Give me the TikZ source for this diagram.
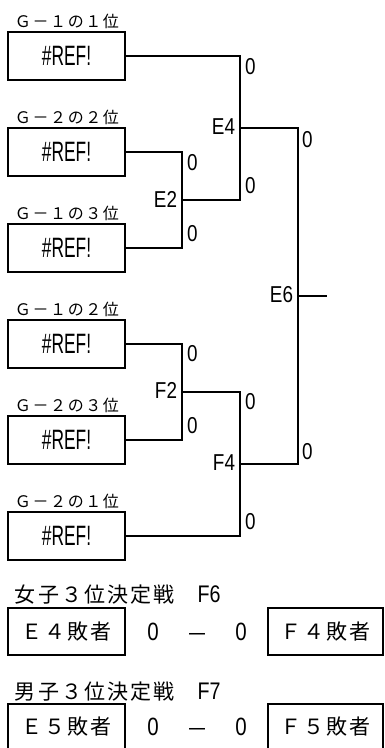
\documentclass[tikz,border=0pt]{standalone}
\usepackage{fontspec}
\setmainfont{Noto Sans CJK JP}
\newfontfamily\narrowfont[FakeStretch=0.62]{Liberation Sans}
\newfontfamily\digitfont[FakeStretch=0.82]{Liberation Sans}
\newfontfamily\widefont[LetterSpace=10]{Noto Sans CJK JP}
\usetikzlibrary{calc,positioning}

\begin{document}
\begin{tikzpicture}[x=1pt, y=-1pt, line width=2pt,
  team/.style={draw, minimum width=117pt, minimum height=48pt, inner sep=0pt, font=\narrowfont\fontsize{28}{28}\selectfont},
  loser/.style={draw, minimum width=117pt, minimum height=47pt, inner sep=0pt, font=\widefont\fontsize{21}{21}\selectfont},
  seed/.style={anchor=west, inner sep=0pt, font=\widefont\fontsize{16}{16}\selectfont},
  title/.style={anchor=west, inner sep=0pt, font=\widefont\fontsize{21}{21}\selectfont},
  score/.style={anchor=west, inner sep=0pt, font=\digitfont\fontsize{23}{23}\selectfont},
  match/.style={anchor=east, inner sep=0pt, font=\digitfont\fontsize{23}{23}\selectfont},
  result/.style={inner sep=0pt, font=\digitfont\fontsize{25}{25}\selectfont}]

	\useasboundingbox (0,0) rectangle (384,748);

	% teams and seeds
	\foreach \i/\y/\seedtext in {1/56/Ｇ－１の１位, 2/152/Ｇ－２の２位, 3/248/Ｇ－１の３位, 4/344/Ｇ－１の２位, 5/440/Ｇ－２の３位, 6/536/Ｇ－２の１位}
	{
			\node[team] (t\i) at (66.5, \y) {\#REF!};
			\node[seed] (s\i) at (14, \y-35) {\seedtext};
	}

	% matches
	\coordinate (e2) at (182, 200);
	\coordinate (e4) at (240, 128);
	\coordinate (e6) at (298, 296);
	\coordinate (f2) at (182, 392);
	\coordinate (f4) at (240, 464);
	\coordinate (win) at (327, 296);

	\draw (t2.east) -| (e2) |- (t3.east);
	\draw (t1.east) -| (e4);
	\draw (e2) -| (e4);
	\draw (t4.east) -| (f2) |- (t5.east);
	\draw (f2) -| (f4) |- (t6.east);
	\draw (e4) -| (e6);
	\draw (f4) -| (e6);
	\draw (e6) -- (win);

	\node[match] (le2) at (178, 199) {E2};
	\node[match] (le4) at (236, 127) {E4};
	\node[match] (le6) at (294, 295) {E6};
	\node[match] (lf2) at (178, 390) {F2};
	\node[match] (lf4) at (236, 463) {F4};

	% scores
	\foreach \n/\x/\y in {a/244/67, b/244/186, c/186/163, d/186/234, e/301/140, f/301/452, g/186/354, h/186/426, i/244/402, j/244/522}
	{
			\node[score] (sc\n) at (\x, \y) {0};
	}

	% 3rd place
	\node[title] (girls) at (14, 595) {女子３位決定戦　{\digitfont\fontsize{24}{24}\selectfont F6}};
	\node[loser] (gl) at (66.5, 631.5) {Ｅ４敗者};
	\node[result] (gs1) at (153, 632) {0};
	\node[result, font=\fontsize{22}{22}\selectfont] (gd) at (197, 638) {－};
	\node[result] (gs2) at (241, 632) {0};
	\node[loser, minimum width=115pt] (gr) at (325.5, 631.5) {Ｆ４敗者};

	\node[title] (boys) at (14, 692) {男子３位決定戦　{\digitfont\fontsize{24}{24}\selectfont F7}};
	\node[loser] (bl) at (66.5, 727) {Ｅ５敗者};
	\node[result] (bs1) at (153, 727) {0};
	\node[result, font=\fontsize{22}{22}\selectfont] (bd) at (197, 733) {－};
	\node[result] (bs2) at (241, 727) {0};
	\node[loser, minimum width=115pt] (br) at (325.5, 727) {Ｆ５敗者};

\end{tikzpicture}
\end{document}
